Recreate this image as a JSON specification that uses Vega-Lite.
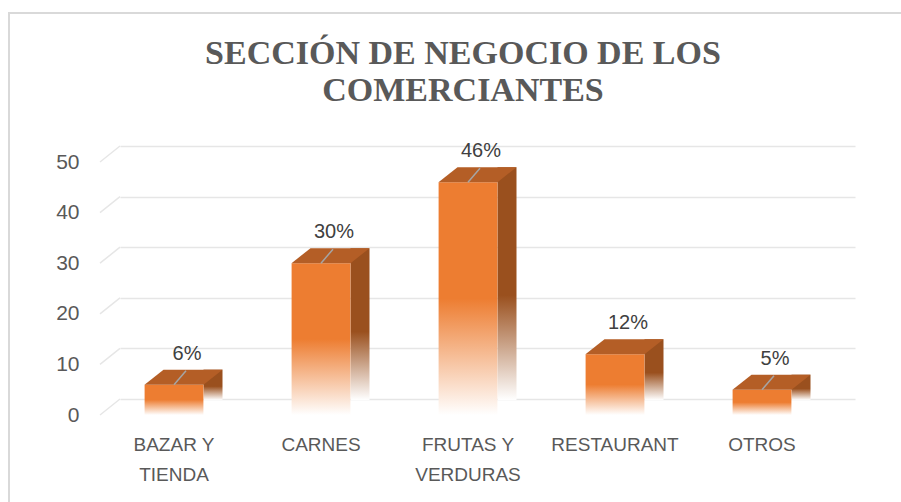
{
  "$schema": "https://vega.github.io/schema/vega-lite/v6.json",
  "width": 735,
  "height": 253,
  "autosize": {"type": "none"},
  "padding": {"left": 120, "top": 146, "right": 46, "bottom": 103},
  "background": "white",
  "config": {"view": {"stroke": null}, "font": "Liberation Sans"},
  "title": {
    "text": ["SECCIÓN DE NEGOCIO DE LOS", "COMERCIANTES"],
    "font": "Liberation Serif",
    "fontSize": 34,
    "fontWeight": "bold",
    "color": "#595959",
    "anchor": "middle",
    "dx": -24.5,
    "lineHeight": 37,
    "offset": -96
  },
  "datasets": {
    "bars": [
      {"cat": "BAZAR Y TIENDA", "v": 6, "label": "6%"},
      {"cat": "CARNES", "v": 30, "label": "30%"},
      {"cat": "FRUTAS Y VERDURAS", "v": 46, "label": "46%"},
      {"cat": "RESTAURANT", "v": 12, "label": "12%"},
      {"cat": "OTROS", "v": 5, "label": "5%"}
    ],
    "ticks": [{"v": 0}, {"v": 10}, {"v": 20}, {"v": 30}, {"v": 40}, {"v": 50}]
  },
  "encoding": {
    "x": {
      "field": "cat", "type": "nominal", "sort": null,
      "scale": {"paddingInner": 0, "paddingOuter": 0},
      "axis": {
        "title": null, "domain": false, "ticks": false,
        "labelAngle": 0, "labelOffset": -19.5, "labelPadding": 36,
        "labelFontSize": 19, "labelColor": "#595959", "labelLineHeight": 30,
        "labelFont": "Liberation Sans",
        "labelExpr": "datum.label == 'BAZAR Y TIENDA' ? ['BAZAR Y', 'TIENDA'] : datum.label == 'FRUTAS Y VERDURAS' ? ['FRUTAS Y', 'VERDURAS'] : datum.label"
      }
    },
    "y": {
      "field": "v", "type": "quantitative",
      "scale": {"domain": [0, 50], "nice": false},
      "axis": {
        "title": null, "domain": false, "ticks": false,
        "values": [0, 10, 20, 30, 40, 50],
        "labelOffset": 16, "labelPadding": 41,
        "labelFontSize": 21, "labelColor": "#595959",
        "labelFont": "Liberation Sans",
        "grid": true, "gridColor": "#E6E6E6", "gridWidth": 1.5
      }
    }
  },
  "layer": [
    {
      "data": {"values": [{}]},
      "mark": {"type": "rect", "filled": false, "stroke": "#D9D9D9", "strokeWidth": 2},
      "encoding": {
        "x": {"value": -111},
        "x2": {"value": 790},
        "y": {"value": -133},
        "y2": {"value": 365}
      }
    },
    {
      "data": {"name": "ticks"},
      "mark": {"type": "rule", "color": "#E6E6E6", "strokeWidth": 1.5, "y2Offset": 16},
      "encoding": {
        "y2": {"field": "v"},
        "x": {"value": 0},
        "x2": {"value": -20}
      }
    },
    {
      "data": {"name": "bars"},
      "mark": {
        "type": "bar",
        "width": {"band": 0.1293},
        "xOffset": 19.5,
        "yOffset": 1,
        "y2Offset": 9,
        "color": {
          "gradient": "linear", "x1": 0, "y1": 0, "x2": 0, "y2": 1,
          "stops": [
            {"offset": 0, "color": "#9A501E"},
            {"offset": 0.55, "color": "#9A501E"},
            {"offset": 1, "color": "#FFFFFF"}
          ]
        }
      }
    },
    {
      "data": {"name": "bars"},
      "mark": {
        "type": "bar",
        "width": {"band": 0.4},
        "xOffset": -19.5,
        "yOffset": 16,
        "y2Offset": 16,
        "color": {
          "gradient": "linear", "x1": 0, "y1": 0, "x2": 0, "y2": 1,
          "stops": [
            {"offset": 0, "color": "#ED7D31"},
            {"offset": 0.5, "color": "#ED7D31"},
            {"offset": 1, "color": "#FFFFFF"}
          ]
        }
      }
    },
    {
      "data": {"name": "bars"},
      "mark": {
        "type": "point",
        "shape": "M-1,0.1923L-0.5128,-0.1923L1,-0.1923L0.5128,0.1923Z",
        "size": 6084,
        "filled": true,
        "color": "#B45E26",
        "opacity": 1,
        "strokeWidth": 0,
        "xOffset": -10,
        "yOffset": 8.5
      }
    },
    {
      "data": {"name": "bars"},
      "transform": [{"filter": "datum.cat != 'RESTAURANT'"}],
      "mark": {
        "type": "point",
        "shape": "M-0.857,1L0.857,-1",
        "size": 196,
        "filled": false,
        "color": "#A5A5A5",
        "opacity": 1,
        "strokeWidth": 1.5,
        "xOffset": -13.5,
        "yOffset": 9
      }
    },
    {
      "data": {"name": "bars"},
      "mark": {
        "type": "text",
        "dx": -6.5,
        "dy": -15,
        "baseline": "middle",
        "align": "center",
        "fontSize": 20,
        "font": "Liberation Sans",
        "color": "#404040"
      },
      "encoding": {
        "text": {"field": "label"}
      }
    }
  ]
}
